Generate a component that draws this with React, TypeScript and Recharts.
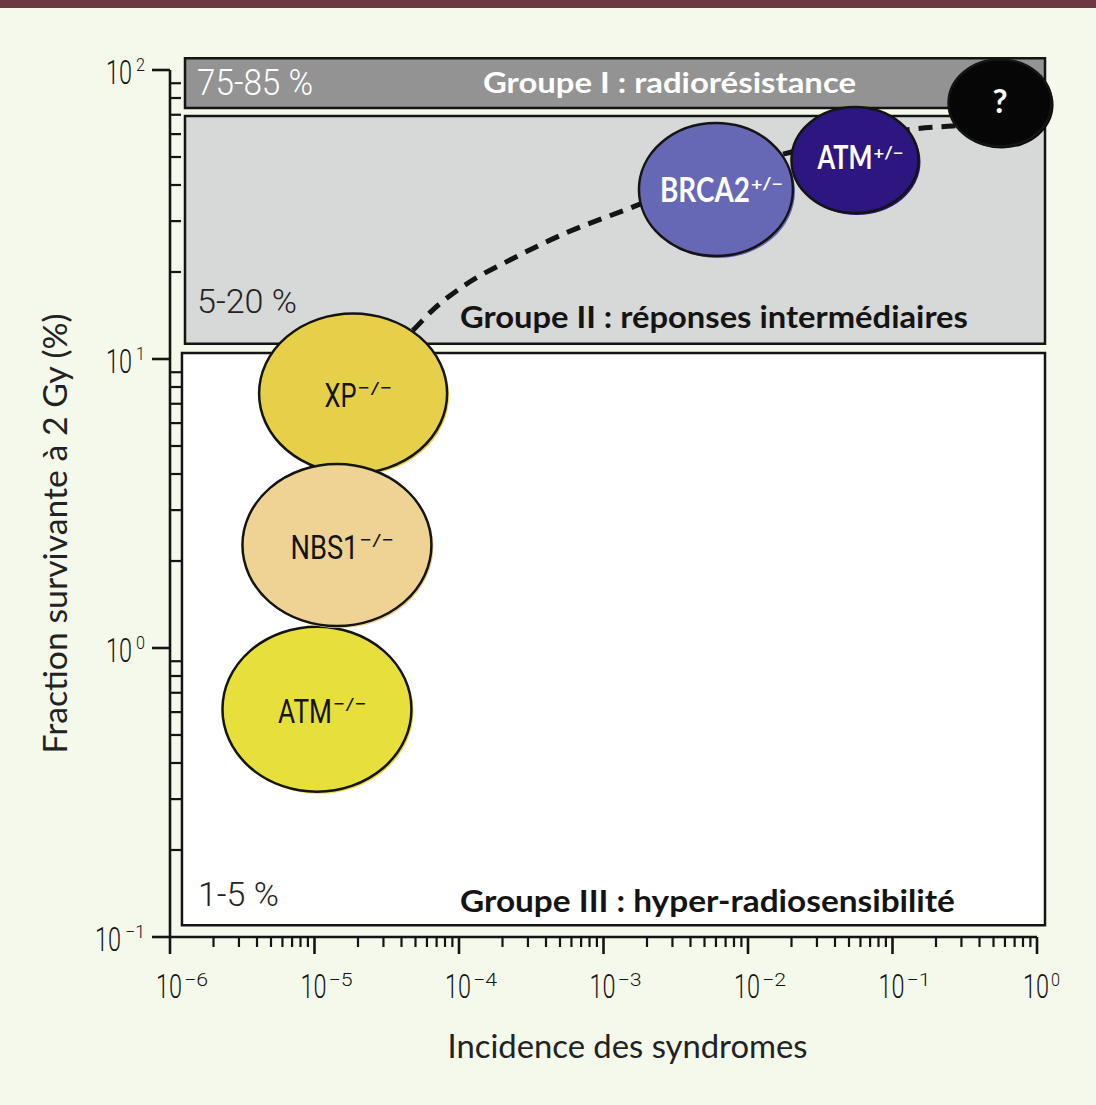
import React from "react";
import { ComposedChart, XAxis, YAxis, Line, Scatter, ReferenceArea } from "recharts";

// axes
const xMajorTicks = [1e-6, 1e-5, 1e-4, 1e-3, 1e-2, 1e-1, 1];
const xExponents = ["−6", "−5", "−4", "−3", "−2", "−1", "0"];
const yMajorTicks = [0.1, 1, 10, 100];
const yExponents = ["−1", "0", "1", "2"];
const minorSteps = [2, 3, 4, 5, 6, 7, 8, 9];

// response groups (boxes)
const bandNames = ["Groupe I : radiorésistance", "Groupe II : réponses intermédiaires", "Groupe III : hyper-radiosensibilité"];
const bandRanges = ["75-85 %", "5-20 %", "1-5 %"];
const bandLeft = [1.27e-6, 1.27e-6, 1.21e-6];
const bandRight = [1.136, 1.136, 1.136];
const bandTop = [109.8, 69.3, 10.5];
const bandBottom = [73.9, 11.3, 0.1098];

// syndromes
const markNames = ["ATM", "XP", "NBS1", "BRCA2", "ATM", "?"];
const markSups = ["−/−", "−/−", "−/−", "+/−", "+/−", ""];
const markIncidence = [1.04e-5, 1.85e-5, 1.43e-5, 0.006, 0.055, 0.555];
const markSurvival = [0.614, 7.6, 2.27, 38.6, 48.8, 76.9];

// dashed trend curve
const curveIncidence = [3.61e-5, 4.58e-5, 6.6e-5, 1.19e-4, 2.25e-4, 5.68e-4, 1.46e-3, 4.66e-3, 1.66e-2, 5.96e-2, 0.139, 0.262, 0.555];
const curveSurvival = [11.2, 12.3, 14.8, 18.5, 22.0, 27.5, 33.0, 41.6, 50.8, 58.2, 62.5, 64.0, 65.0];

const INK = "#141414";
const BG = "#f4f9ec";
const COND = "Roboto, 'DejaVu Sans', sans-serif";
const HUM = "Lato, 'Open Sans', sans-serif";
const BOLD = "Lato, 'Open Sans', sans-serif";

const bandLook = [
  { fill: "#939393", pctFill: "#ffffff", titleFill: "#ffffff", pctX: 12, pctY: 37, pctW: 116, pctSize: 36, titleX: 298, titleY: 35, titleW: 373, titleSize: 28, fromTop: true },
  { fill: "#d7d8d8", pctFill: "#222", titleFill: INK, pctX: 12, pctY: -31, pctW: 100, pctSize: 34, titleX: 275, titleY: -16, titleW: 508, titleSize: 30, fromTop: false },
  { fill: "#ffffff", pctFill: "#222", titleFill: INK, pctX: 16, pctY: -19, pctW: 81, pctSize: 34, titleX: 278, titleY: -13, titleW: 495, titleSize: 30, fromTop: false },
];

const markLook = [
  { rx: 94.5, ry: 82.5, fill: "#e7df3b", text: INK, bold: false, size: 34, baseW: 54, supW: 34, dy: 13.5, supDy: -13 },
  { rx: 94, ry: 80, fill: "#e7d049", text: INK, bold: false, size: 34, baseW: 32, supW: 35, dy: 14, supDy: -13 },
  { rx: 94.5, ry: 81, fill: "#efd394", text: INK, bold: false, size: 34, baseW: 68, supW: 35, dy: 14, supDy: -13 },
  { rx: 77, ry: 66.5, fill: "#6667b5", text: "#ffffff", bold: true, size: 34, baseW: 90, supW: 32, dy: 12.5, supDy: -12 },
  { rx: 63.5, ry: 53, fill: "#2e1681", text: "#ffffff", bold: true, size: 32, baseW: 55, supW: 30, dy: 9, supDy: -10 },
  { rx: 51.5, ry: 43.5, fill: "#060606", text: "#ffffff", bold: true, size: 33, baseW: 15, supW: 0, dy: 10, supDy: 0 },
];

const markData = markNames.map((name, i) => ({ i, name, sup: markSups[i], x: markIncidence[i], y: markSurvival[i] }));
const curveData = curveIncidence.map((x, i) => ({ x, y: curveSurvival[i] }));

const decadeStarts = [1e-6, 1e-5, 1e-4, 1e-3, 1e-2, 1e-1];
const xTicks = [...xMajorTicks, ...decadeStarts.flatMap((d) => minorSteps.map((m) => m * d))];
const yTicks = [...yMajorTicks, ...[0.1, 1, 10].flatMap((d) => minorSteps.map((m) => m * d))];

const sameVal = (a: number, b: number) => Math.abs(a - b) / b < 1e-6;

function XTick(props: any) {
  const { x, y, payload } = props;
  const v = payload.value as number;
  const idx = xMajorTicks.findIndex((t) => sameVal(v, t));
  if (idx < 0) return <line x1={x} y1={y} x2={x} y2={y + 10} stroke={INK} strokeWidth={2.2} />;
  const sup = xExponents[idx];
  return (
    <g>
      <line x1={x} y1={y} x2={x} y2={y + 17} stroke={INK} strokeWidth={2.6} />
      <text x={x - 14} y={y + 61} fontSize={34} fontWeight={300} fontFamily={COND} fill={INK} textLength={26} lengthAdjust="spacingAndGlyphs">10</text>
      <text x={x + 14} y={y + 49} fontSize={18} fontWeight={300} fontFamily={COND} fill={INK} textLength={sup.length > 1 ? 24 : 9} lengthAdjust="spacingAndGlyphs">{sup}</text>
    </g>
  );
}

function YTick(props: any) {
  const { x, y, payload } = props;
  const v = payload.value as number;
  const idx = yMajorTicks.findIndex((t) => sameVal(v, t));
  if (idx < 0) return <line x1={x} y1={y} x2={x + 11} y2={y} stroke={INK} strokeWidth={2.2} />;
  const sup = yExponents[idx];
  const supW = sup.length > 1 ? 20 : 9;
  const right = x - 25;
  return (
    <g>
      <line x1={x - 18} y1={y} x2={x} y2={y} stroke={INK} strokeWidth={2.6} />
      <text x={right - supW - 30} y={y + 14} fontSize={34} fontWeight={300} fontFamily={COND} fill={INK} textLength={26} lengthAdjust="spacingAndGlyphs">10</text>
      <text x={right - supW} y={y + 1} fontSize={18} fontWeight={300} fontFamily={COND} fill={INK} textLength={supW} lengthAdjust="spacingAndGlyphs">{sup}</text>
    </g>
  );
}

function bandLabel(i: number) {
  return (p: any) => {
    const vb = p.viewBox;
    const lk = bandLook[i];
    const base = lk.fromTop ? vb.y : vb.y + vb.height;
    return (
      <g>
        <text x={vb.x + lk.pctX} y={base + lk.pctY} fontSize={lk.pctSize} fontWeight={300} fontFamily={COND} fill={lk.pctFill} textLength={lk.pctW} lengthAdjust="spacingAndGlyphs">
          {bandRanges[i]}
        </text>
        <text x={vb.x + lk.titleX} y={base + lk.titleY} fontSize={lk.titleSize} fontWeight={700} fontFamily={BOLD} fill={lk.titleFill} textLength={lk.titleW} lengthAdjust="spacingAndGlyphs">
          {bandNames[i]}
        </text>
      </g>
    );
  };
}

function Blob(props: any) {
  const { cx, cy, payload } = props;
  const lk = markLook[payload.i];
  const total = lk.baseW + lk.supW;
  const start = cx - total / 2 + (lk.supW ? 5 : 0);
  const family = lk.bold ? BOLD : COND;
  return (
    <g>
      <ellipse cx={cx + 2} cy={cy + 2} rx={lk.rx} ry={lk.ry} fill={lk.fill} />
      <ellipse cx={cx} cy={cy} rx={lk.rx} ry={lk.ry} fill={lk.fill} stroke={INK} strokeWidth={2.5} />
      <text x={start} y={cy + lk.dy} fontSize={lk.size} fontWeight={lk.bold ? 700 : 400} fontFamily={family} fill={lk.text} textLength={lk.baseW} lengthAdjust="spacingAndGlyphs">
        {payload.name}
      </text>
      {payload.sup ? (
        <text x={start + lk.baseW + 1} y={cy + lk.dy + lk.supDy} fontSize={17} fontWeight={lk.bold ? 700 : 400} fontFamily={family} fill={lk.text} textLength={lk.supW} lengthAdjust="spacingAndGlyphs">
          {payload.sup}
        </text>
      ) : null}
    </g>
  );
}

export default function App() {
  return (
    <div style={{ position: "absolute", left: 0, top: 0, width: 1096, height: 1105, background: BG, overflow: "hidden" }}>
      <div style={{ position: "absolute", left: 0, top: 0, width: 1096, height: 8, background: "#6d3842" }} />
      <div style={{ position: "absolute", left: 0, top: 0 }}>
        <ComposedChart width={1096} height={1105} margin={{ top: 70, right: 59, bottom: 68, left: 0 }}>
          <XAxis
            dataKey="x"
            type="number"
            scale="log"
            domain={[1e-6, 1]}
            ticks={xTicks}
            interval={0}
            height={100}
            tickSize={0}
            tickMargin={0}
            tickLine={false}
            axisLine={{ stroke: INK, strokeWidth: 2.6 }}
            tick={<XTick />}
            label={(p: any) => (
              <text x={p.viewBox.x + p.viewBox.width / 2 + 24} y={p.viewBox.y + 121} textAnchor="middle" fontSize={33} fontFamily={HUM} fill="#222" textLength={360} lengthAdjust="spacingAndGlyphs">
                Incidence des syndromes
              </text>
            )}
          />
          <YAxis
            dataKey="y"
            type="number"
            scale="log"
            domain={[0.1, 100]}
            ticks={yTicks}
            interval={0}
            width={170}
            tickSize={0}
            tickMargin={0}
            tickLine={false}
            axisLine={{ stroke: INK, strokeWidth: 2.6 }}
            tick={<YTick />}
            label={(p: any) => (
              <text transform={`translate(67, ${p.viewBox.y + p.viewBox.height / 2 + 30}) rotate(-90)`} textAnchor="middle" fontSize={33} fontFamily={HUM} fill="#222" textLength={440} lengthAdjust="spacingAndGlyphs">
                Fraction survivante à 2 Gy (%)
              </text>
            )}
          />
          {bandNames.map((n, i) => (
            <ReferenceArea
              key={n}
              x1={bandLeft[i]}
              x2={bandRight[i]}
              y1={bandBottom[i]}
              y2={bandTop[i]}
              ifOverflow="visible"
              fill={bandLook[i].fill}
              fillOpacity={1}
              stroke={INK}
              strokeWidth={2.5}
              label={bandLabel(i)}
            />
          ))}
          <Line
            data={curveData}
            dataKey="y"
            type="monotone"
            stroke={INK}
            strokeWidth={5}
            strokeDasharray="14 9"
            dot={false}
            activeDot={false}
            isAnimationActive={false}
          />
          <Scatter data={markData} dataKey="y" shape={(p: any) => <Blob {...p} />} isAnimationActive={false} />
        </ComposedChart>
      </div>
    </div>
  );
}
